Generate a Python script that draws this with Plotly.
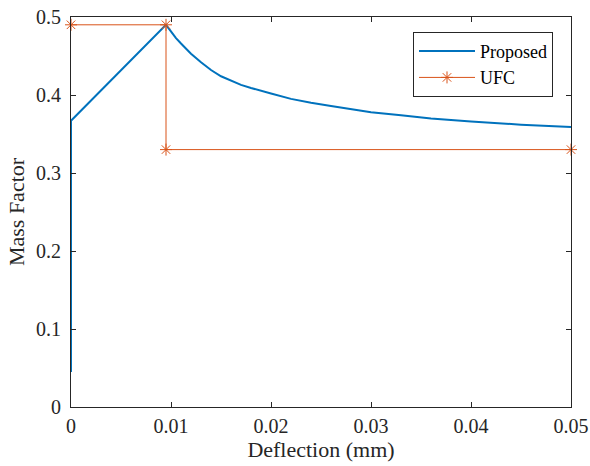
import plotly.graph_objects as go

# Proposed curve
prop_x = [0.0, 0.0, 0.0, 0.0, 0.0095, 0.0100, 0.0105, 0.0110, 0.0120, 0.0130,
          0.0140, 0.0150, 0.0160, 0.0170, 0.0180, 0.0190, 0.0200, 0.0220,
          0.0240, 0.0260, 0.0280, 0.0300, 0.0330, 0.0360, 0.0400, 0.0450, 0.0500]
prop_y = [0.045, 0.12, 0.207, 0.367, 0.490, 0.481, 0.473, 0.466, 0.453, 0.442,
          0.432, 0.424, 0.418, 0.413, 0.409, 0.405, 0.402, 0.395,
          0.390, 0.386, 0.382, 0.378, 0.374, 0.370, 0.366, 0.362, 0.359]

# UFC step
ufc_x = [0.0, 0.0095, 0.0095, 0.05]
ufc_y = [0.49, 0.49, 0.33, 0.33]

x_ticks = [0, 0.01, 0.02, 0.03, 0.04, 0.05]
x_labels = ["0", "0.01", "0.02", "0.03", "0.04", "0.05"]
y_ticks = [0, 0.1, 0.2, 0.3, 0.4, 0.5]
y_labels = ["0", "0.1", "0.2", "0.3", "0.4", "0.5"]

BLUE = "#0072BD"
ORANGE = "#D95319"
AX = "#262626"
FONT = "Liberation Serif"

fig = go.Figure()
fig.add_trace(go.Scatter(x=prop_x, y=prop_y, mode="lines", name="Proposed",
                         line=dict(color=BLUE, width=2)))
fig.add_trace(go.Scatter(x=ufc_x, y=ufc_y, mode="lines+markers", name="UFC",
                         cliponaxis=False,
                         line=dict(color=ORANGE, width=1),
                         marker=dict(symbol="asterisk-open", size=10,
                                     color=ORANGE, line=dict(color=ORANGE, width=1))))

axis_common = dict(showline=True, linecolor=AX, linewidth=1, mirror="ticks",
                   ticks="inside", ticklen=5, tickcolor=AX, showgrid=False,
                   zeroline=False, automargin=False,
                   tickfont=dict(family=FONT, size=20, color=AX),
                   title_font=dict(family=FONT, size=22, color=AX))

fig.update_xaxes(range=[0, 0.05], tickvals=x_ticks, ticktext=x_labels,
                 title_text="Deflection (mm)", title_standoff=0,
                 ticklabelstandoff=1, **axis_common)
fig.update_yaxes(range=[0, 0.5], tickvals=y_ticks, ticktext=y_labels,
                 title_text="Mass Factor", title_standoff=5,
                 ticklabelstandoff=5, **axis_common)

fig.update_layout(
    width=590, height=466,
    margin=dict(l=71, r=19, t=17, b=59),
    paper_bgcolor="white", plot_bgcolor="white",
    font=dict(family=FONT, size=20, color=AX),
    legend=dict(x=0.684, y=0.962, xanchor="left", yanchor="top",
                bgcolor="white", bordercolor=AX, borderwidth=1,
                font=dict(family=FONT, size=18, color="black"),
                itemwidth=56, tracegroupgap=0),
    showlegend=True,
)

fig.write_html("out.html")
